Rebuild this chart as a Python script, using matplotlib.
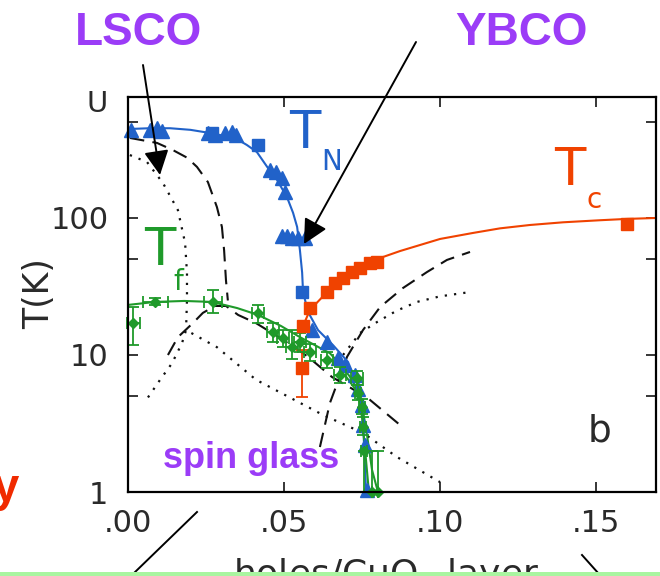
import matplotlib
matplotlib.use('Agg')
import matplotlib.pyplot as plt
from matplotlib.patches import Rectangle

plt.rcParams['font.family'] = ['DejaVu Sans']
plt.rcParams['mathtext.default'] = 'regular'

# ---------------- data (x = holes/CuO2 layer, T in K) ----------------
# YBCO T_N : triangles and squares
TN_tri_x = [0.0010, 0.0070, 0.0093, 0.0109, 0.0256, 0.0279, 0.0311, 0.0333, 0.0346,
            0.0455, 0.0474, 0.0494, 0.0503, 0.0494, 0.0510, 0.0526, 0.0545, 0.0567,
            0.0590, 0.0638, 0.0673, 0.0696, 0.0728, 0.0737, 0.0750, 0.0753, 0.0760, 0.0766]
TN_tri_T = [439, 439, 454, 432, 417, 403, 417, 425, 403,
            224, 217, 196, 155, 74, 74, 71, 71, 71,
            15.2, 12.4, 9.5, 8.5, 7.1, 5.6, 4.3, 3.1, 2.2, 1.03]
TN_sq_x = [0.0269, 0.0417, 0.0558]
TN_sq_T = [417, 341, 28.8]
TN_fit_x = [0.0, 0.0070, 0.0135, 0.0200, 0.0263, 0.0327, 0.0359, 0.0381, 0.0413, 0.0446,
            0.0478, 0.0510, 0.0529, 0.0542, 0.0551, 0.0558, 0.0561,
            0.0577, 0.0609, 0.0657, 0.0705, 0.0737, 0.0753, 0.0763]
TN_fit_T = [446, 452, 452, 440, 417, 390, 365, 341, 303, 236,
            189, 141, 109, 86, 58, 40, 28.8,
            20.6, 15.2, 11.8, 8.9, 6.0, 3.35, 1.0]

# YBCO T_c
Tc_x = [0.0558, 0.0561, 0.0583, 0.0638, 0.0663, 0.0689, 0.0718, 0.0744, 0.0776, 0.0798, 0.1600]
Tc_T = [8.0, 16.3, 22.0, 28.8, 33.5, 36.5, 40.3, 43.2, 46.9, 47.7, 90]
Tc_lo = [4.9, 16.3, 22.0, 28.8, 33.5, 36.5, 40.3, 43.2, 46.9, 47.7, 90]
Tc_hi = [10.9, 16.3, 22.0, 28.8, 33.5, 36.5, 40.3, 43.2, 46.9, 47.7, 90]
Tc_fit_x = [0.0555, 0.0561, 0.0583, 0.0638, 0.0696, 0.0760, 0.0817, 0.0872, 0.1000, 0.1106,
            0.1192, 0.1288, 0.1394, 0.1513, 0.1600, 0.1692]
Tc_fit_T = [14.5, 16.3, 21.3, 28.8, 35.3, 43.2, 51.9, 57.4, 70.3, 77.8,
            84.0, 88.9, 93.0, 96.3, 98.5, 100]

# YBCO T_f (spin glass)
Tf_x = [0.0017, 0.0087, 0.0272, 0.0417, 0.0465, 0.0497, 0.0526, 0.0551, 0.0583,
        0.0638, 0.0679, 0.0734, 0.0737, 0.0750, 0.0753, 0.0757, 0.0782, 0.0801]
Tf_T = [17.1, 24.4, 24.4, 20.3, 14.7, 13.3, 11.4, 12.4, 10.5,
        9.2, 7.1, 6.8, 5.3, 4.2, 3.0, 2.0, 1.0, 1.0]
Tf_lo = [11.9, 23.0, 20.3, 17.1, 12.4, 11.4, 9.3, 10.5, 9.0,
         8.0, 6.2, 6.0, 4.7, 3.7, 2.6, 1.0, 1.0, 1.0]
Tf_hi = [22.3, 26.0, 29.8, 23.2, 17.1, 15.2, 15.2, 14.5, 12.0,
         10.5, 8.2, 7.6, 6.0, 4.8, 3.5, 2.0, 2.0, 2.0]
Tf_xerr = [0.002, 0.004, 0.003, 0.002, 0.002, 0.002, 0.002, 0.002, 0.002,
           0.002, 0.002, 0.002, 0.001, 0.001, 0.001, 0.001, 0.0, 0.0]
Tf_fit_x = [0.0, 0.0087, 0.0180, 0.0269, 0.0350, 0.0417, 0.0490, 0.0551, 0.0647, 0.0679,
            0.0710, 0.0728, 0.0750, 0.0766, 0.0782, 0.0801]
Tf_fit_T = [23.2, 24.4, 24.8, 24.4, 22.0, 19.6, 16.3, 13.5, 10.3, 8.6,
            7.0, 6.0, 4.3, 2.6, 1.45, 1.0]
Tf_fit2_x = [0.0696, 0.0737, 0.0750, 0.0760, 0.0772]
Tf_fit2_T = [7.1, 5.3, 3.5, 2.0, 1.0]

# LSCO reference curves
dash_TN_x = [0.0006, 0.0093, 0.0144, 0.0190, 0.0221, 0.0256, 0.0285, 0.0301, 0.0308, 0.0314, 0.0320]
dash_TN_T = [384, 353, 313, 275, 236, 183, 120, 86, 58, 35, 25]
dash_Tf_x = [0.0128, 0.0160, 0.0208, 0.0240, 0.0279, 0.0314, 0.0353, 0.0410, 0.0497,
             0.0577, 0.0654, 0.0766, 0.0878]
dash_Tf_T = [10.0, 13.5, 17.1, 20.3, 22.8, 22.8, 19.6, 17.1, 12.9, 9.7, 6.9, 4.9, 3.0]
dot_TN_x = [0.0006, 0.0061, 0.0112, 0.0160, 0.0183, 0.0189, 0.0189, 0.0186]
dot_TN_T = [288, 256, 180, 114, 65.7, 39.7, 25.2, 15.2]
dot_Tf_x = [0.0064, 0.0103, 0.0141, 0.0173, 0.0186, 0.0285, 0.0410, 0.0625, 0.0753, 0.0862, 0.1000]
dot_Tf_T = [4.9, 6.6, 8.7, 12.2, 15.2, 11.4, 6.6, 3.65, 2.7, 1.8, 1.18]
dash_Tc_x = [0.0615, 0.0647, 0.0702, 0.0753, 0.0808, 0.0881, 0.0958, 0.1022, 0.1096]
dash_Tc_T = [2.13, 4.46, 9.7, 15.2, 22.4, 30.8, 40.3, 49.4, 56.5]
dot_Tc_x = [0.0689, 0.0744, 0.0798, 0.0860, 0.0926, 0.1000, 0.1096]
dot_Tc_T = [10, 14.5, 17.4, 21.0, 24.4, 26.8, 28.8]

x_ticks = [0.0, 0.05, 0.10, 0.15]
x_ticklabels = ['.00', '.05', '.10', '.15']
y_ticks = [1, 10, 100]
y_ticklabels = ['1', '10', '100']
y_minor = [5, 50, 500]

BLUE = '#2162c9'
RED = '#f04200'
GREEN = '#1f9a2a'
PURPLE = '#9b3cf7'
TXT = '#2a2a2a'

# ---------------- figure ----------------
fig = plt.figure(figsize=(6.6, 5.76), dpi=100)
ax = fig.add_axes([128 / 660, 1 - 492 / 576, (656 - 128) / 660, (492 - 97) / 576])
ax.set_yscale('log')
ax.set_xlim(0, 0.1692)
ax.set_ylim(1, 764)

# LSCO curves
dash = (0, (7, 4))
dot = (0, (1, 3.2))
ax.plot(dash_TN_x, dash_TN_T, color='#111111', lw=1.5, ls=dash)
ax.plot(dash_Tf_x, dash_Tf_T, color='#111111', lw=1.5, ls=dash)
ax.plot(dash_Tc_x, dash_Tc_T, color='#111111', lw=1.5, ls=dash)
ax.plot(dot_TN_x, dot_TN_T, color='#111111', lw=1.6, ls=dot)
ax.plot(dot_Tf_x, dot_Tf_T, color='#111111', lw=1.6, ls=dot)
ax.plot(dot_Tc_x, dot_Tc_T, color='#111111', lw=1.6, ls=dot)

# fits
ax.plot(TN_fit_x, TN_fit_T, color=BLUE, lw=1.5)
ax.plot(Tc_fit_x, Tc_fit_T, color=RED, lw=1.5)
ax.plot(Tf_fit_x, Tf_fit_T, color=GREEN, lw=1.5)
ax.plot(Tf_fit2_x, Tf_fit2_T, color=GREEN, lw=1.5)

# data
ax.plot(TN_tri_x, TN_tri_T, ls='none', marker='^', ms=9.5, color=BLUE, clip_on=False)
ax.plot(TN_sq_x, TN_sq_T, ls='none', marker='s', ms=8, color=BLUE)
yerr_c = [[t - l for t, l in zip(Tc_T, Tc_lo)], [h - t for t, h in zip(Tc_T, Tc_hi)]]
ax.errorbar(Tc_x, Tc_T, yerr=yerr_c, ls='none', marker='s', ms=8.5, color=RED,
            elinewidth=1.3, capsize=4, capthick=1.3)
yerr_f = [[t - l for t, l in zip(Tf_T, Tf_lo)], [h - t for t, h in zip(Tf_T, Tf_hi)]]
eb = ax.errorbar(Tf_x, Tf_T, yerr=yerr_f, xerr=Tf_xerr, ls='none', marker='D', ms=5,
                 color=GREEN, elinewidth=1.3, capsize=4, capthick=1.3)
for art in eb.get_children():
    art.set_clip_on(False)

ax.set_xticks(x_ticks)
ax.set_xticklabels(x_ticklabels)
ax.set_yticks(y_ticks)
ax.set_yticklabels(y_ticklabels)
ax.set_yticks(y_minor, minor=True)
ax.yaxis.set_minor_formatter(plt.NullFormatter())
ax.xaxis.set_minor_locator(plt.NullLocator())
ax.tick_params(which='both', direction='in', top=True, right=True, length=7, width=1.1,
               labelsize=22, labelcolor=TXT)
ax.tick_params(axis='y', pad=14)
ax.tick_params(axis='x', pad=12)
for s in ax.spines.values():
    s.set_linewidth(1.6)

# ---------------- overlay (pixel coordinates) ----------------
ov = fig.add_axes([0, 0, 1, 1])
ov.set_xlim(0, 660)
ov.set_ylim(576, 0)
ov.axis('off')
ov.patch.set_alpha(0)

ov.text(39, 294, 'T(K)', rotation=90, ha='center', va='center', fontsize=25, color=TXT)
ov.text(233, 585, 'holes/CuO$_2$ layer', ha='left', va='baseline', fontsize=26, color=TXT)
ov.text(97, 112, 'U', ha='center', va='baseline', fontsize=21, color=TXT)

ov.text(289, 148, 'T', ha='left', va='baseline', fontsize=37, color=BLUE)
ov.text(321, 170, 'N', ha='left', va='baseline', fontsize=20, color=BLUE)
ov.text(554, 185, 'T', ha='left', va='baseline', fontsize=37, color=RED)
ov.text(586, 208, 'c', ha='left', va='baseline', fontsize=20, color=RED)
ov.text(144, 265, 'T', ha='left', va='baseline', fontsize=37, color=GREEN)
ov.text(173, 290, 'f', ha='left', va='baseline', fontsize=20, color=GREEN)
ov.text(588, 442, 'b', ha='left', va='baseline', fontsize=27, color=TXT)

ov.text(138, 45, 'LSCO', ha='center', va='baseline', fontsize=33, color=PURPLE,
        family='Liberation Sans', weight='bold')
ov.text(521, 45, 'YBCO', ha='center', va='baseline', fontsize=33, color=PURPLE,
        family='Liberation Sans', weight='bold')
ov.text(163, 468, 'spin glass', ha='left', va='baseline', fontsize=26, color=PURPLE,
        family='Liberation Sans', weight='bold')
ov.text(19, 501, 'y', ha='right', va='baseline', fontsize=34, color='#f02a00',
        family='Liberation Sans', weight='bold')

aprops = dict(arrowstyle='-|>,head_length=0.75,head_width=0.38', color='black', lw=1.4,
              mutation_scale=20, shrinkA=0, shrinkB=0)
ov.annotate('', xy=(160, 175), xytext=(143, 65), arrowprops=aprops)
ov.annotate('', xy=(304, 244), xytext=(416, 42), arrowprops=aprops)
ov.plot([133, 197], [574, 512], color='black', lw=1.4)
ov.plot([582, 599], [555, 574], color='black', lw=1.4)
ov.add_patch(Rectangle((0, 572), 660, 6, facecolor='#a9f5a0', edgecolor='none', zorder=10))

fig.savefig('out.png', dpi=100)
